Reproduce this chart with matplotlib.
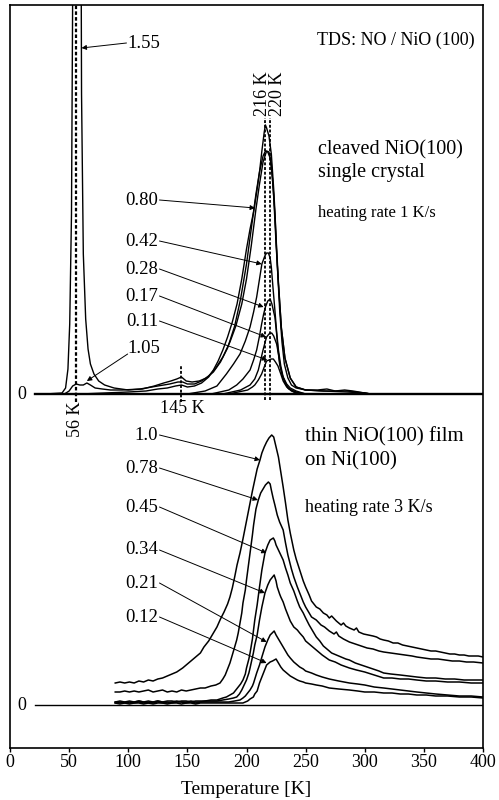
import matplotlib
matplotlib.use("Agg")
import matplotlib.pyplot as plt

plt.rcParams['font.family'] = ['Liberation Serif', 'DejaVu Serif']

# ---------------- data (intensity in arbitrary units) ----------------
# upper panel: cleaved NiO(100) single crystal, heating rate 1 K/s
top_155 = [(30,0),(44,1),(47,6),(49,25),(50.5,70),(52,180),(53,400),(54,800),(56,1200),(58,1000),(59.5,700),(60.5,300),(62,140),(64,75),(66,45),(68,30),(71,20),(75,13),(80,9),(88,6),(100,4),(112,5),(122,8),(130,11),(136,13),(141,15),(145,17),(149,13),(154,12),(160,13),(166,16),(172,22),(178,32),(184,46),(190,68),(195,95),(200,130),(204,165),(208,200),(211,222),(214,238),(216,243),(218,242),(220,236),(222,215),(224,180),(226,130),(228,85),(230,52),(232,30),(235,16),(238,9),(242,6),(250,4),(260,4),(268,5),(275,3),(283,4),(290,3),(300,1),(305,0)]
top_105 = [(30,0),(46,0),(50,3),(53,8),(56,10),(59,9),(62,9),(65,11),(68,9),(72,6),(78,5),(85,4),(95,4),(110,5),(125,8),(135,10),(142,12),(146,12),(150,10),(156,10),(162,13),(168,18),(174,26),(180,37),(186,52),(191,68),(196,90),(200,115),(204,148),(208,185),(211,210),(214,232),(217,243),(219,242),(221,230),(223,198),(225,150),(227,110),(229.5,66),(232.5,36),(237,16),(242,7),(250,4),(265,3),(285,3),(300,1),(305,0)]
top_080 = [(30,0),(60,0),(80,1),(100,2),(115,3),(125,5),(133,6),(140,8),(145,9),(150,7),(156,8),(162,11),(168,17),(172,24),(176,33),(180,44),(184,57),(188,72),(192,90),(196,115),(200,145),(203,165),(206,182),(209,205),(211,222),(213,243),(215,262),(216,269),(217,266),(219,258),(221,240),(223,205),(224,183),(225.5,145),(227,112),(229.5,66),(232.5,36),(237,16),(242,7),(250,4),(265,3),(285,2),(300,1),(305,0)]
top_042 = [(150,0),(165,3),(175,8),(183,20),(189,30),(194.5,40),(199,53),(203,67),(206,82),(208.6,97),(211,115),(213,130),(215.5,138),(217,141),(218.5,141),(220,136),(221,127),(222.5,105),(224,84),(225.5,62),(227,44),(229,28),(231,17),(234,10),(237,6),(242,3),(250,0)]
top_028 = [(170,0),(185,4),(191.7,9),(197,15),(203,24),(206,34),(208.6,44),(211,58),(212.8,70),(214.5,80),(216,87),(218,93),(220,95),(221.5,90),(223,82),(224,77),(225.5,60),(226.6,44),(228.5,28),(230.6,17),(233,10),(236,5),(242,2),(250,0)]
top_017 = [(180,0),(195,4),(203,9),(207,15),(210,24),(212,34),(214,44),(216,53),(217,57),(219,60),(221.3,61),(223,58),(225.5,50),(227,40),(228,30),(230,20),(232.6,12),(235,6),(240,2),(248,0)]
top_011 = [(185,0),(201,4),(205,7),(207,9),(210,14),(212.8,20),(215,27),(217,33),(219,34),(221,35),(222.7,35),(224.5,32),(226.6,28),(229,20),(231,13),(234,7),(238,3),(245,0)]

# lower panel: thin NiO(100) film on Ni(100), heating rate 3 K/s
bot_100 = [(89,22),(93,23),(97,22),(101,23),(105,22),(109,24),(113,23),(117,25),(121,24),(125,26),(129,27),(133,29),(137,31),(141,33),(146,37),(150,41),(153,44),(157,48),(161,52),(164,58),(168,64),(171,70),(175,78),(178,86),(181,93),(184,101),(186,108),(188,117),(190,128),(192,140),(194.5,152),(197,166),(199,178),(201,190),(203,202),(205,214),(207,225),(209,236),(211.4,245),(213,252),(215,258),(217,263),(219,267),(221.3,270),(223,268),(225,258),(227,248),(229,233),(231,218),(233,202),(235,185),(237,172),(240,155),(242,146),(245,135),(248,124),(250,118),(253,110),(255,104),(259,98),(262,96),(265,92),(268,90),(270,87),(272,89),(276,84),(280,80),(282,82),(284,79),(287,77),(291,75),(293,77),(295,73),(299,71),(303,70),(307,69),(310,68),(313,66),(316,65),(320,64),(324,62),(328,62),(332,60),(336,59),(340,58),(344,57),(348,56),(352,55),(356,54),(360,54),(364,53),(368,52),(372,51),(376,51),(380,50),(384,50),(388,49),(392,49),(396,49),(400,48)]
bot_078 = [(89,13),(93,13),(97,14),(101,13),(105,14),(109,13),(113,14),(117,15),(121,13),(125,14),(129,15),(133,13),(137,14),(141,13),(145,15),(149,14),(153,15),(157,16),(161,17),(165,17),(170,19),(174,20),(177.6,22),(180,26),(182,30),(184,36),(186,42),(188,50),(189.5,56),(191.7,65),(193,72),(194.5,82),(196,92),(197,102),(199,115),(200,125),(202,143),(203,152),(205,170),(206,180),(208,196),(210,205),(212,212),(214,216),(216,220),(218.5,223),(220,221),(221,215),(222.5,207),(224,200),(226,190),(228,183),(231,175),(233,162),(235,150),(238,136),(240,128),(243,118),(245,112),(248,103),(250,98),(253,92),(255,88),(259,85),(263,80),(266,78),(270,74),(274,71),(276,73),(278,69),(282,66),(287,63),(292,61),(297,59),(302,57),(307,56),(312,54),(316,53),(322,52),(328,51),(334,50),(340,49),(344,48),(350,47),(356,46),(362,46),(368,45),(374,44),(380,44),(386,43),(392,43),(400,42)]
bot_045 = [(89,3),(93,4),(97,3),(101,4),(105,3),(109,4),(113,3),(117,4),(121,3),(125,4),(129,3),(133,4),(137,4),(141,3),(145,4),(149,4),(153,3),(157,4),(161,4),(165,4),(170,5),(175,5),(180,7),(183,8),(186,10),(189,12),(191,15),(193,18),(195,21),(197,25),(199,31),(200,37),(202,46),(203,52),(205,66),(207,85),(209,100),(211,118),(213,135),(215.6,152),(218,160),(220,165),(222.7,167),(224,164),(225,160),(227,155),(229,150),(231,145),(233,137),(235,130),(237,122),(240,114),(243,104),(245,98),(248,92),(250,87),(253,80),(255,76),(259,68),(262,64),(265,59),(268,56),(272,52),(276,50),(280,48),(284,46),(287,45),(292,42),(297,40),(302,38),(307,36),(312,34),(316,32),(322,31),(330,30),(337,29),(344,28),(352,27),(360,27),(368,26),(376,26),(384,25),(392,25),(400,25)]
bot_034 = [(89,3),(93,2),(97,3),(101,2),(105,3),(109,4),(113,3),(117,2),(121,3),(125,4),(129,3),(133,2),(137,3),(141,4),(145,3),(149,3),(153,4),(157,3),(161,3),(165,4),(170,4),(175,4),(180,5),(185,6),(189,7),(191.7,8),(194,11),(196,15),(198,20),(200,25),(202,32),(203,37),(205.8,52),(207,60),(209,70),(211,85),(213,98),(215.6,112),(218,120),(220,125),(223.4,130),(225,124),(226,118),(228,111),(229,108),(231,103),(233,96),(235,90),(237,84),(240,78),(243,75),(245,72),(248,68),(250,64),(255,59),(259,55),(264,50),(270,45),(275,43),(280,40),(287,37),(293,35),(300,33),(308,30),(316,27),(323,27),(330,26),(337,26),(344,25),(352,24),(360,24),(370,23),(380,23),(390,22),(400,22)]
bot_021 = [(89,2),(93,3),(97,2),(101,3),(105,2),(109,3),(113,2),(117,3),(121,2),(125,3),(129,2),(133,3),(137,2),(141,3),(145,3),(149,2),(153,3),(157,2),(161,3),(165,3),(170,3),(175,3),(180,3),(185,3),(190,4),(194.5,5),(197,7),(199,9),(201,12),(203,15),(205,19),(206,22),(208.6,32),(211,40),(213,48),(215.6,58),(218,65),(220,70),(223.4,74),(225,70),(226,68),(228,64),(229,62),(231,58),(233,54),(235,50),(237,47),(240,43),(243,40),(245,38),(248,36),(250,34),(255,32),(259,30),(264,28),(270,26),(278,24),(287,22),(294,21),(300,20),(308,18),(316,17),(323,16),(330,15),(337,14),(344,13),(352,12),(360,11),(370,10),(380,9),(390,9),(400,8)]
bot_012 = [(89,2),(93,1),(97,2),(101,1),(105,2),(109,2),(113,1),(117,2),(121,1),(125,2),(129,2),(133,1),(137,2),(141,2),(145,1),(149,2),(153,2),(157,1),(161,2),(165,2),(170,2),(175,2),(180,2),(185,2),(190,2),(197,2),(199,3),(201,4),(203,6),(205.8,8),(207,11),(209,14),(211,22),(213,28),(214,31),(216,37),(217,40),(219,42),(220,43),(222,44),(225,46),(226,44),(228,40),(229,38),(231,35),(233,33),(235,31),(237,29),(240,27),(243,25),(245,24),(248,23),(250,22),(255,21),(259,20),(264,19),(270,17),(278,16),(287,15),(294,14),(300,13),(308,13),(316,12),(323,12),(330,11),(337,11),(344,10),(352,10),(360,9),(370,9),(380,8),(390,8),(400,7)]

top_labels = ["1.55", "0.80", "0.42", "0.28", "0.17", "0.11", "1.05"]
bot_labels = ["1.0", "0.78", "0.45", "0.34", "0.21", "0.12"]
xticks = [0, 50, 100, 150, 200, 250, 300, 350, 400]

# ---------------- layout ----------------
TOP0 = 354   # baseline of upper panel
BOT0 = 43    # baseline of lower panel

fig = plt.figure(figsize=(4.99, 8.0), dpi=100)
ax = fig.add_axes([10/499, 52/800, 473/499, 743/800])
ax.set_xlim(0, 400)
ax.set_ylim(0, 743)

def draw(curve, base, lw=1.0):
    T = [p[0] for p in curve]
    I = [p[1] + base for p in curve]
    ax.plot(T, I, color='black', lw=lw, solid_joinstyle='round')

# baselines
ax.plot([21, 400], [TOP0, TOP0], color='black', lw=1.7)
ax.plot([21, 400], [BOT0, BOT0], color='black', lw=1.0)

for c in [top_011, top_017, top_028, top_042, top_080, top_105, top_155]:
    draw(c, TOP0)
for c in [bot_012, bot_021, bot_034, bot_045, bot_078, bot_100]:
    draw(c, BOT0, lw=1.1)

# dashed peak markers
dash = (0, (1.6, 1.0))
ax.plot([56, 56], [346, 743], color='black', lw=1.6, ls=dash)
ax.plot([145, 145], [346, 383], color='black', lw=1.3, ls=dash)
ax.plot([216, 216], [348, 630], color='black', lw=1.3, ls=dash)
ax.plot([220, 220], [348, 630], color='black', lw=1.3, ls=dash)

fs = 13.5
ax.text(55.5, 347, "56 K", rotation=90, ha='center', va='top', fontsize=13)
ax.text(145.5, 340, "145 K", ha='center', va='center', fontsize=13)
ax.text(213.5, 632, "216 K", rotation=90, ha='center', va='bottom', fontsize=13)
ax.text(226.5, 632, "220 K", rotation=90, ha='center', va='bottom', fontsize=13)

ax.text(10, TOP0, "0", ha='center', va='center', fontsize=13)
ax.text(10, BOT0, "0", ha='center', va='center', fontsize=13)

ax.text(259.5, 708, "TDS: NO / NiO (100)", ha='left', va='center', fontsize=13)
ax.text(260.5, 598, "cleaved NiO(100)", ha='left', va='center', fontsize=14.5)
ax.text(260.5, 576, "single crystal", ha='left', va='center', fontsize=14.5)
ax.text(260.5, 535, "heating rate 1 K/s", ha='left', va='center', fontsize=12)
ax.text(249.5, 311, "thin NiO(100) film", ha='left', va='center', fontsize=15)
ax.text(249.5, 287, "on Ni(100)", ha='left', va='center', fontsize=15)
ax.text(249.5, 240, "heating rate 3 K/s", ha='left', va='center', fontsize=13)

arrow = dict(arrowstyle='-|>', lw=0.7, color='black', mutation_scale=7,
             shrinkA=0, shrinkB=0)

# 1.55: label to the right of the arrow start
ax.text(99.5, 705, top_labels[0], ha='left', va='center', fontsize=fs)
ax.annotate("", xy=(60.5, 700), xytext=(98.5, 705), arrowprops=arrow)

# upper panel labels: (label, text x, text y, arrow tip x, tip y)
top_ann = [
    (top_labels[1], 125.2, 548, 207.2, 540),
    (top_labels[2], 125.2, 507, 212.9, 484),
    (top_labels[3], 125.2, 479, 214.5, 441),
    (top_labels[4], 125.2, 452, 216.5, 411),
    (top_labels[5], 125.2, 427, 217.5, 388),
]
for lab, tx, ty, ax_, ay in top_ann:
    ax.text(tx, ty, lab, ha='right', va='center', fontsize=fs)
    ax.annotate("", xy=(ax_, ay), xytext=(tx + 1.2, ty), arrowprops=arrow)
ax.text(99.5, 400, top_labels[6], ha='left', va='center', fontsize=fs)
ax.annotate("", xy=(65, 367), xytext=(99.5, 394), arrowprops=arrow)

bot_ann = [
    (bot_labels[0], 125.2, 313, 211.4, 288),
    (bot_labels[1], 125.2, 280, 209.7, 248),
    (bot_labels[2], 125.2, 241, 217.0, 195),
    (bot_labels[3], 125.2, 198, 215.6, 155),
    (bot_labels[4], 125.2, 165, 217.0, 106),
    (bot_labels[5], 125.2, 131, 217.0, 85),
]
for lab, tx, ty, ax_, ay in bot_ann:
    ax.text(tx, ty, lab, ha='right', va='center', fontsize=fs)
    ax.annotate("", xy=(ax_, ay), xytext=(tx + 1.2, ty), arrowprops=arrow)

ax.set_xticks(xticks)
ax.set_xticklabels([str(t) for t in xticks], fontsize=13)
ax.tick_params(axis='x', direction='out', length=3, width=1, pad=1.5)
ax.set_yticks([])
for s in ax.spines.values():
    s.set_linewidth(1.2)
ax.set_xlabel("Temperature [K]", fontsize=14, labelpad=7)

fig.savefig("out.png", dpi=100)
